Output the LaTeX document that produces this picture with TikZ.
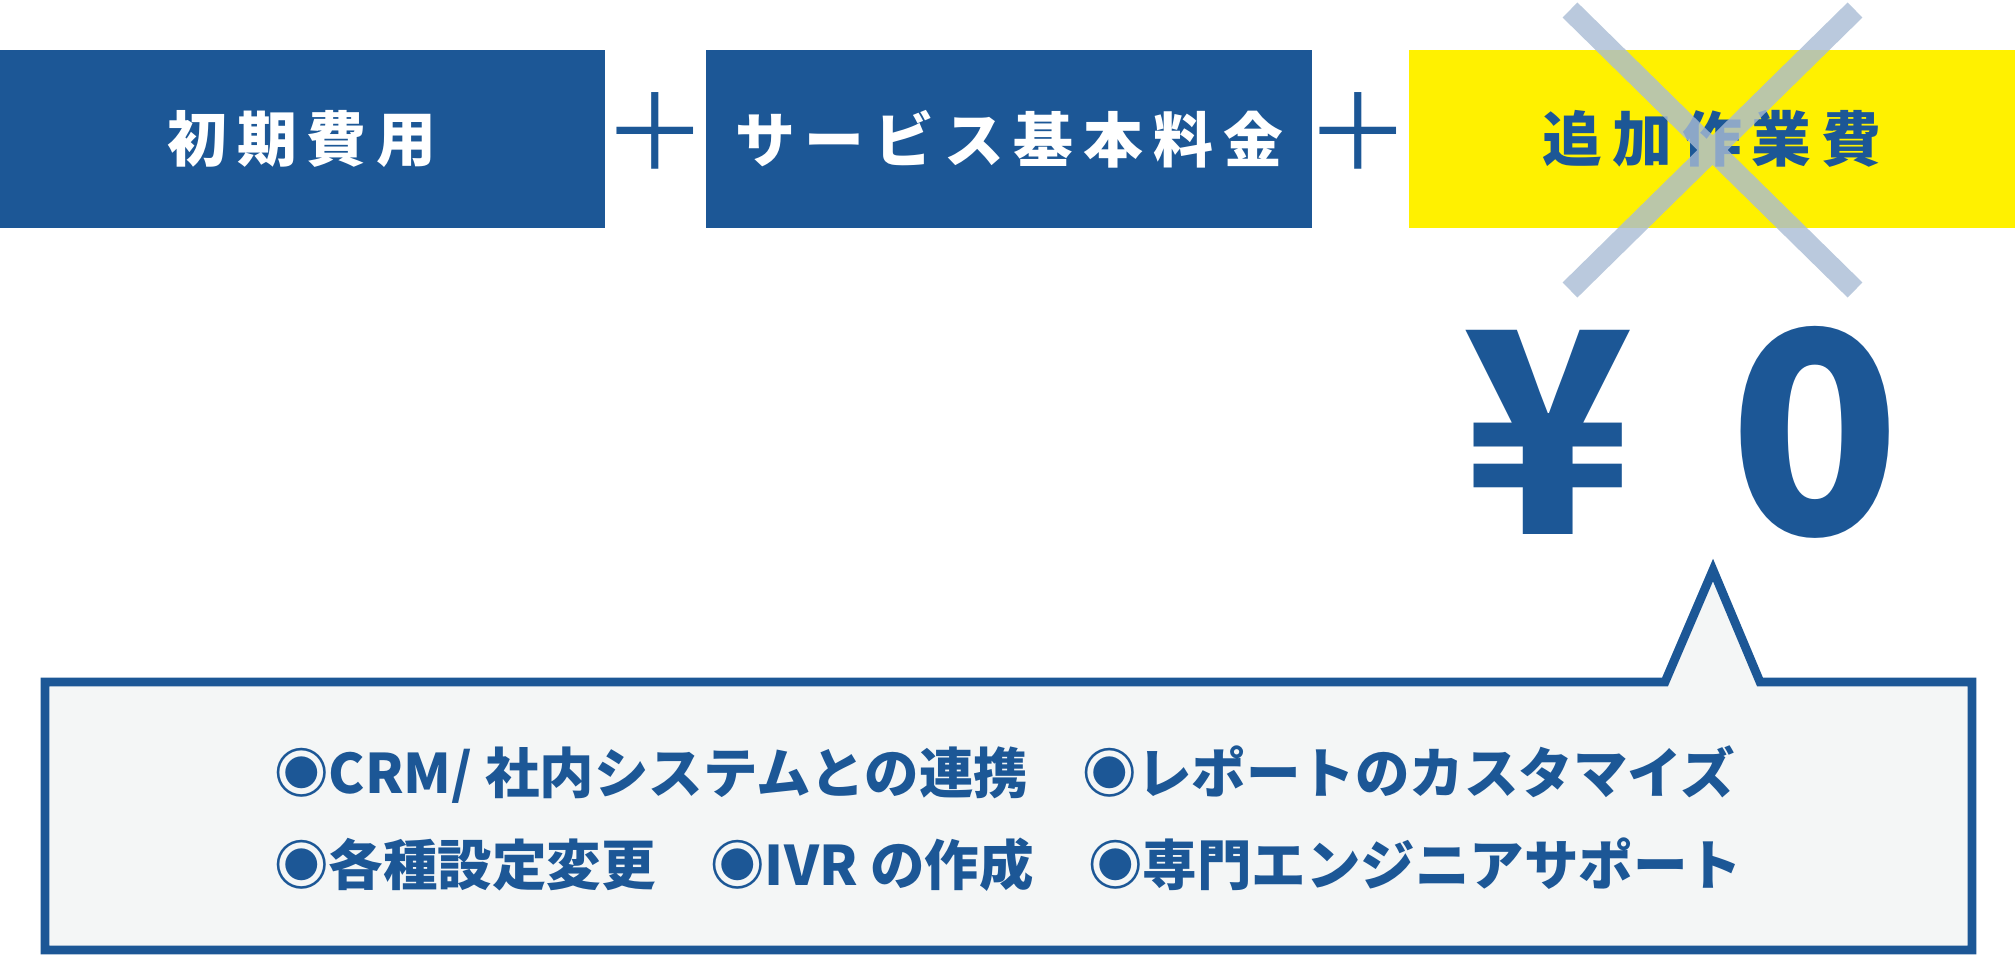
\documentclass[tikz,border=0pt]{standalone}
\usepackage{fontspec}
\setmainfont{Noto Sans CJK JP}
\definecolor{navy}{HTML}{1C5796}
\definecolor{yel}{HTML}{FFF100}
\definecolor{crossc}{HTML}{A9BCD4}
\definecolor{pale}{HTML}{F4F6F6}
\begin{document}
\begin{tikzpicture}[x=0.01cm,y=-0.01cm,
  hbox/.style={minimum width=6.05cm,minimum height=1.78cm,inner sep=0,font=\fontsize{17}{20}\selectfont\bfseries},
  plus/.style={text=navy,font=\fontsize{30}{30}\selectfont},
  item/.style={text=navy,anchor=west,font=\fontsize{15.5}{18}\selectfont\bfseries},
  big/.style={text=navy,font=\fontsize{80}{80}\selectfont\bfseries}]
\useasboundingbox (0,0) rectangle (2015,957);
\node[hbox,fill=navy,text=white] (b1) at (302,139) {初\,期\,費\,用};
\node[plus] (p1) at (655,132) {＋};
\node[hbox,fill=navy,text=white] (b2) at (1009,139) {サ\,ー\,ビ\,ス\,基\,本\,料\,金};
\node[plus] (p2) at (1358,132) {＋};
\node[hbox,fill=yel,text=navy] (b3) at (1712,139) {追\,加\,作\,業\,費};
\draw[crossc,line width=6pt,opacity=0.8] (1570,10) -- (1855,290) (1855,10) -- (1570,290);
\node[big] (yen) at (1548,432) {¥};
\node[big] (zero) at (1815,432) {0};
\draw[navy,line width=2.5pt,fill=pale] (45,682) -- (1665,682) -- (1713,570) -- (1760,682) -- (1972,682) -- (1972,950) -- (45,950) -- cycle;
\node[item] (l1) at (262,775) {◉CRM/ 社内システムとの連携\quad ◉レポートのカスタマイズ};
\node[item] (l2) at (262,865) {◉各種設定変更\quad ◉IVR の作成\quad ◉専門エンジニアサポート};
\end{tikzpicture}
\end{document}
